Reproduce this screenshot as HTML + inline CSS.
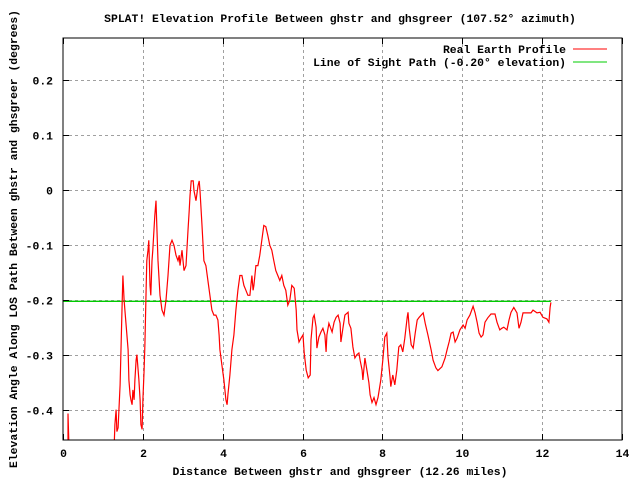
<!DOCTYPE html>
<html><head><meta charset="utf-8"><style>
body{margin:0;background:#fff;}
svg text{font-family:"Liberation Mono",monospace;font-weight:bold;font-size:11.4px;fill:#000;}
</style></head><body>
<svg id="chart" width="640" height="480" viewBox="0 0 640 480" xmlns="http://www.w3.org/2000/svg">
<defs><clipPath id="clip"><rect x="63" y="38" width="559" height="402"/></clipPath></defs>
<rect width="640" height="480" fill="#fff"/>
<text x="340" y="22" text-anchor="middle">SPLAT! Elevation Profile Between ghstr and ghsgreer (107.52° azimuth)</text>
<text x="340" y="475" text-anchor="middle">Distance Between ghstr and ghsgreer (12.26 miles)</text>
<text transform="translate(17,239) rotate(-90)" text-anchor="middle">Elevation Angle Along LOS Path Between ghstr and ghsgreer (degrees)</text>
<g id="grid"></g>
<g id="series" clip-path="url(#clip)"></g>
<rect x="63" y="38" width="559" height="402" fill="none" stroke="#000" stroke-width="1"/>
<g id="ticks"></g>
<g>
<text x="566" y="53" text-anchor="end">Real Earth Profile</text>
<line x1="573" y1="49" x2="607" y2="49" stroke="#f00" stroke-width="1"/>
<text x="566" y="66" text-anchor="end">Line of Sight Path (-0.20° elevation)</text>
<line x1="573" y1="62" x2="607" y2="62" stroke="#0c0" stroke-width="1"/>
</g>
</svg>
<script>
const xTicks=[0,2,4,6,8,10,12,14];
const yTicks=[0.2,0.1,0,-0.1,-0.2,-0.3,-0.4];
const yTickLabels=["0.2","0.1","0","-0.1","-0.2","-0.3","-0.4"];
const losDist=[0,12.22];
const losElev=[-0.203,-0.203];
const seg1Dist=[0.125,0.125,0.15];
const seg1Elev=[-0.47,-0.407,-0.47];
const profileDist=[1.28,1.30,1.33,1.35,1.38,1.43,1.48,1.50,1.53,1.58,1.63,1.65,1.68,1.70,1.73,1.75,1.78,1.80,1.83,1.85,1.90,1.93,1.95,1.98,2.00,2.03,2.05,2.08,2.10,2.13,2.15,2.18,2.20,2.23,2.25,2.30,2.33,2.35,2.38,2.43,2.48,2.53,2.58,2.63,2.68,2.73,2.78,2.83,2.88,2.91,2.93,2.98,3.03,3.08,3.13,3.16,3.18,3.21,3.26,3.28,3.33,3.38,3.41,3.43,3.48,3.53,3.58,3.63,3.68,3.73,3.78,3.83,3.88,3.91,3.93,3.98,4.03,4.08,4.11,4.13,4.18,4.23,4.28,4.33,4.38,4.43,4.48,4.53,4.58,4.63,4.68,4.73,4.76,4.78,4.83,4.88,4.93,4.98,5.03,5.08,5.13,5.18,5.23,5.28,5.33,5.38,5.43,5.48,5.53,5.58,5.63,5.68,5.73,5.79,5.84,5.86,5.91,5.96,6.01,6.04,6.09,6.14,6.19,6.21,6.26,6.29,6.34,6.36,6.41,6.46,6.51,6.56,6.59,6.61,6.66,6.74,6.79,6.84,6.89,6.94,6.96,7.01,7.06,7.14,7.16,7.21,7.26,7.31,7.36,7.41,7.44,7.49,7.51,7.56,7.61,7.66,7.69,7.74,7.79,7.84,7.89,7.91,7.96,8.01,8.06,8.11,8.14,8.19,8.21,8.26,8.31,8.36,8.41,8.46,8.51,8.56,8.62,8.64,8.67,8.72,8.77,8.82,8.87,8.92,9.02,9.07,9.14,9.22,9.27,9.34,9.39,9.49,9.57,9.62,9.67,9.72,9.77,9.82,9.87,9.94,10.02,10.07,10.12,10.19,10.27,10.32,10.37,10.42,10.47,10.52,10.57,10.64,10.72,10.82,10.87,10.94,10.99,11.04,11.12,11.17,11.22,11.29,11.37,11.42,11.47,11.52,11.62,11.72,11.77,11.87,11.95,12.02,12.12,12.17,12.20,12.22];
const profileElev=[-0.47,-0.427,-0.400,-0.440,-0.433,-0.355,-0.210,-0.156,-0.201,-0.246,-0.291,-0.346,-0.373,-0.382,-0.391,-0.364,-0.382,-0.346,-0.310,-0.300,-0.346,-0.382,-0.427,-0.436,-0.382,-0.328,-0.282,-0.183,-0.129,-0.110,-0.092,-0.174,-0.192,-0.129,-0.110,-0.047,-0.020,-0.065,-0.129,-0.192,-0.219,-0.228,-0.201,-0.156,-0.101,-0.092,-0.101,-0.119,-0.129,-0.119,-0.138,-0.110,-0.147,-0.138,-0.074,-0.038,-0.011,0.016,0.016,-0.002,-0.020,0.007,0.016,-0.002,-0.065,-0.129,-0.138,-0.165,-0.192,-0.219,-0.228,-0.228,-0.237,-0.264,-0.291,-0.319,-0.346,-0.382,-0.391,-0.373,-0.337,-0.291,-0.264,-0.219,-0.183,-0.156,-0.156,-0.174,-0.183,-0.192,-0.192,-0.156,-0.183,-0.174,-0.138,-0.138,-0.119,-0.092,-0.065,-0.067,-0.083,-0.101,-0.110,-0.129,-0.147,-0.156,-0.165,-0.156,-0.174,-0.183,-0.210,-0.201,-0.174,-0.179,-0.219,-0.255,-0.277,-0.270,-0.264,-0.297,-0.328,-0.342,-0.337,-0.273,-0.233,-0.228,-0.250,-0.288,-0.268,-0.259,-0.252,-0.264,-0.295,-0.264,-0.243,-0.259,-0.241,-0.232,-0.228,-0.243,-0.277,-0.252,-0.228,-0.223,-0.243,-0.252,-0.286,-0.306,-0.300,-0.297,-0.310,-0.328,-0.346,-0.306,-0.328,-0.351,-0.373,-0.387,-0.378,-0.391,-0.378,-0.369,-0.346,-0.310,-0.268,-0.261,-0.304,-0.340,-0.358,-0.337,-0.355,-0.328,-0.286,-0.282,-0.295,-0.270,-0.232,-0.223,-0.252,-0.282,-0.288,-0.261,-0.237,-0.232,-0.224,-0.243,-0.264,-0.291,-0.310,-0.324,-0.329,-0.322,-0.306,-0.291,-0.277,-0.261,-0.259,-0.277,-0.270,-0.255,-0.246,-0.252,-0.237,-0.228,-0.212,-0.224,-0.241,-0.261,-0.268,-0.264,-0.241,-0.233,-0.226,-0.226,-0.241,-0.255,-0.252,-0.250,-0.255,-0.237,-0.223,-0.214,-0.224,-0.252,-0.241,-0.224,-0.224,-0.224,-0.219,-0.224,-0.223,-0.232,-0.235,-0.241,-0.214,-0.205];

const L=63,R=622,T=38,B=440;
const X0=0,X1=14,Y0=-0.4552,Y1=0.276;
function sx(v){return L+(v-X0)/(X1-X0)*(R-L);}
function sy(v){return B-(v-Y0)/(Y1-Y0)*(B-T);}
const NS='http://www.w3.org/2000/svg';
const grid=document.getElementById('grid'),ticks=document.getElementById('ticks'),series=document.getElementById('series');
function mk(tag,attrs,parent){const e=document.createElementNS(NS,tag);for(const k in attrs)e.setAttribute(k,attrs[k]);parent.appendChild(e);return e;}
xTicks.forEach((t,i)=>{
  const x=Math.round(sx(t))+0.5;
  if(t>X0&&t<X1){const g=mk('line',{x1:x,y1:T,x2:x,y2:B,stroke:'#a0a0a0','stroke-dasharray':'3,3'},grid);
    
    }
  const tk=mk('path',{d:`M${x},${B}v-6M${x},${T}v6`,stroke:'#000'},ticks);
  
  
  const lb=mk('text',{x:x,y:B+17,'text-anchor':'middle'},ticks);lb.textContent=String(t);
  
  
});
yTicks.forEach((t,i)=>{
  const y=Math.round(sy(t))+0.5;
  const g=mk('line',{x1:L,y1:y,x2:R,y2:y,stroke:'#a0a0a0','stroke-dasharray':'3,3'},grid);
  
  
  const tk=mk('path',{d:`M${L},${y}h6M${R},${y}h-6`,stroke:'#000'},ticks);
  
  
  const lb=mk('text',{x:L-10,y:y+4,'text-anchor':'end'},ticks);lb.textContent=yTickLabels[i];
  
  
});
function pts(d,e){return d.map((v,i)=>sx(v).toFixed(1)+','+sy(e[i]).toFixed(1)).join(' ');}
const los=mk('polyline',{points:pts(losDist,losElev),fill:'none',stroke:'#0c0','stroke-width':1.3},series);


const p1=mk('polyline',{points:pts(seg1Dist,seg1Elev),fill:'none',stroke:'#f00','stroke-width':1.2},series);


const p2=mk('polyline',{points:pts(profileDist,profileElev),fill:'none',stroke:'#f00','stroke-width':1.2},series);


</script>
</body></html>
